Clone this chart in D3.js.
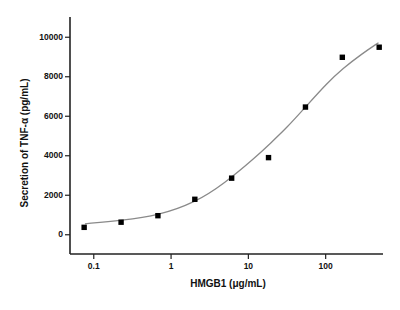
<!DOCTYPE html>
<html>
<head>
<meta charset="utf-8">
<script src="https://cdn.jsdelivr.net/npm/d3@7"></script>
<style>
  body { margin: 0; background: #fff; }
  svg text { font-family: Arial, "Liberation Sans", sans-serif; fill: #111; }
</style>
</head>
<body>
<svg width="400" height="310"></svg>
<script>
// measured points (3-fold dilution of HMGB1)
var conc = [0.0762, 0.229, 0.686, 2.06, 6.17, 18.5, 55.6, 166.7, 500];
var tnf  = [350, 610, 940, 1770, 2840, 3880, 6440, 8960, 9470];

// fitted curve
var fitConc = [0.078, 0.235, 0.70, 2.06, 4.9, 13, 19.5, 32, 56, 105, 170, 290, 490];
var fitTnf  = [530, 700, 950, 1600, 2550, 3950, 4600, 5400, 6450, 7640, 8400, 9100, 9700];

var yMajor = [0, 2000, 4000, 6000, 8000, 10000];
var yMinor = [-1000, 1000, 3000, 5000, 7000, 9000, 11000];
var xMajor = [0.1, 1, 10, 100];
var xLabels = ["0.1", "1", "10", "100"];

var svg = d3.select("svg");

var x = d3.scaleLog().domain([0.05, 560]).range([70, 383]);
var y = d3.scaleLinear().domain([-1000, 11000]).range([254, 17]);

// minor ticks on the log axis: 2..9 of every decade inside the domain
var xMinor = [];
[0.01, 0.1, 1, 10, 100].forEach(function(d) {
  for (var k = 1; k < 10; k++) {
    var v = d * k;
    if (k > 1 && v >= 0.05 && v <= 560) xMinor.push(v);
  }
});

var axisColor = "#222";

// y axis
var gy = svg.append("g").attr("transform", "translate(70,0)");
gy.call(d3.axisLeft(y).tickValues(yMinor).tickSize(3).tickFormat(""));
gy.call(d3.axisLeft(y).tickValues(yMajor).tickSize(5).tickFormat(d3.format("d")));
gy.select(".domain").remove();
gy.append("line").attr("x1", 0).attr("x2", 0).attr("y1", 17).attr("y2", 254)
  .attr("stroke", axisColor).attr("stroke-width", 1.6);
gy.selectAll(".tick line").attr("stroke", axisColor).attr("stroke-width", 1.2);
gy.selectAll(".tick text").attr("font-size", 8.5).attr("font-weight", "bold").attr("x", -7);

// x axis
var gx = svg.append("g").attr("transform", "translate(0,254)");
gx.call(d3.axisBottom(x).tickValues(xMinor).tickSize(3).tickFormat(""));
gx.call(d3.axisBottom(x).tickValues(xMajor).tickSize(5)
  .tickFormat(function(d, i) { return xLabels[i]; }));
gx.select(".domain").remove();
gx.append("line").attr("x1", 70).attr("x2", 383).attr("y1", 0).attr("y2", 0)
  .attr("stroke", axisColor).attr("stroke-width", 1.6);
gx.selectAll(".tick line").attr("stroke", axisColor).attr("stroke-width", 1.2);
gx.selectAll(".tick text").attr("font-size", 8.5).attr("font-weight", "bold").attr("y", 9);

// fitted curve
var fit = fitConc.map(function(c, i) { return [c, fitTnf[i]]; });
var line = d3.line()
  .x(function(d) { return x(d[0]); })
  .y(function(d) { return y(d[1]); })
  .curve(d3.curveBasis);
svg.append("path").datum(fit)
  .attr("d", line)
  .attr("fill", "none")
  .attr("stroke", "#8a8a8a")
  .attr("stroke-width", 1.3);

// data points
var pts = conc.map(function(c, i) { return { c: c, v: tnf[i] }; });
svg.append("g").selectAll("rect")
  .data(pts)
  .enter().append("rect")
    .attr("x", function(d) { return x(d.c) - 2.7; })
    .attr("y", function(d) { return y(d.v) - 2.7; })
    .attr("width", 5.4)
    .attr("height", 5.4)
    .attr("fill", "#000");

// axis titles
svg.append("text")
  .attr("x", 228).attr("y", 287)
  .attr("text-anchor", "middle")
  .attr("font-size", 10).attr("font-weight", "bold")
  .text("HMGB1 (\u03bcg/mL)");

svg.append("text")
  .attr("transform", "translate(28,143) rotate(-90)")
  .attr("text-anchor", "middle")
  .attr("font-size", 10).attr("font-weight", "bold")
  .text("Secretion of TNF-\u03b1 (pg/mL)");
</script>
</body>
</html>
